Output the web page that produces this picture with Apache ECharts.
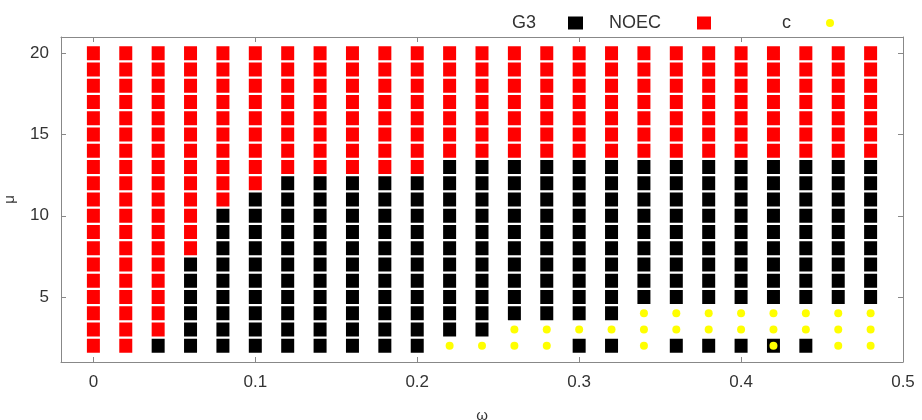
<!DOCTYPE html>
<html>
<head>
<meta charset="utf-8">
<script src="https://cdn.jsdelivr.net/npm/echarts@6/dist/echarts.min.js"></script>
<style>
html,body{margin:0;padding:0;background:#fff;}
#chart{width:922px;height:420px;}
</style>
</head>
<body>
<div id="chart"></div>
<script>
// omega values of each column
const omega = [0, 0.02, 0.04, 0.06, 0.08, 0.10, 0.12, 0.14, 0.16, 0.18, 0.20, 0.22, 0.24,
               0.26, 0.28, 0.30, 0.32, 0.34, 0.36, 0.38, 0.40, 0.42, 0.44, 0.46, 0.48];
// mu values of each row
const mu = [2, 3, 4, 5, 6, 7, 8, 9, 10, 11, 12, 13, 14, 15, 16, 17, 18, 19, 20];
// cell classes per column, one char per mu row (mu=2 first):
// B = G3, R = NOEC, c = c, X = G3 with c on top
const cells = [
  'RRRRRRRRRRRRRRRRRRR', // 0.00
  'RRRRRRRRRRRRRRRRRRR', // 0.02
  'BRRRRRRRRRRRRRRRRRR', // 0.04
  'BBBBBBRRRRRRRRRRRRR', // 0.06
  'BBBBBBBBBRRRRRRRRRR', // 0.08
  'BBBBBBBBBBRRRRRRRRR', // 0.10
  'BBBBBBBBBBBRRRRRRRR', // 0.12
  'BBBBBBBBBBBRRRRRRRR', // 0.14
  'BBBBBBBBBBBRRRRRRRR', // 0.16
  'BBBBBBBBBBBRRRRRRRR', // 0.18
  'BBBBBBBBBBBRRRRRRRR', // 0.20
  'cBBBBBBBBBBBRRRRRRR', // 0.22
  'cBBBBBBBBBBBRRRRRRR', // 0.24
  'ccBBBBBBBBBBRRRRRRR', // 0.26
  'ccBBBBBBBBBBRRRRRRR', // 0.28
  'BcBBBBBBBBBBRRRRRRR', // 0.30
  'BcBBBBBBBBBBRRRRRRR', // 0.32
  'cccBBBBBBBBBRRRRRRR', // 0.34
  'BccBBBBBBBBBRRRRRRR', // 0.36
  'BccBBBBBBBBBRRRRRRR', // 0.38
  'BccBBBBBBBBBRRRRRRR', // 0.40
  'XccBBBBBBBBBRRRRRRR', // 0.42
  'BccBBBBBBBBBRRRRRRR', // 0.44
  'cccBBBBBBBBBRRRRRRR', // 0.46
  'cccBBBBBBBBBRRRRRRR'  // 0.48
];
const xTicks = [0, 0.1, 0.2, 0.3, 0.4, 0.5];
const yTicks = [5, 10, 15, 20];
const seriesNames = ['G3', 'NOEC', 'c'];

const g3 = [], noec = [], cpts = [];
omega.forEach((w, i) => {
  for (let j = 0; j < mu.length; j++) {
    const k = cells[i][j];
    if (k === 'B' || k === 'X') g3.push([w, mu[j]]);
    if (k === 'R') noec.push([w, mu[j]]);
    if (k === 'c' || k === 'X') cpts.push([w, mu[j]]);
  }
});

const FONT = 'Liberation Sans';
const TXT = '#333';
const AX = '#888';

const baseX = {
  type: 'value', min: -0.02, max: 0.5,
  splitLine: {show: false},
  axisLine: {show: true, onZero: false, lineStyle: {color: AX, width: 1}},
  axisTick: {show: true, inside: true, length: 5, customValues: xTicks, lineStyle: {color: AX}},
};
const baseY = {
  type: 'value', min: 1, max: 21,
  splitLine: {show: false},
  axisLine: {show: true, onZero: false, lineStyle: {color: AX, width: 1}},
  axisTick: {show: true, inside: true, length: 5, customValues: yTicks, lineStyle: {color: AX}},
};

const chart = echarts.init(document.getElementById('chart'), null, {renderer: 'canvas'});
chart.setOption({
  animation: false,
  backgroundColor: '#fff',
  textStyle: {fontFamily: FONT},
  grid: {left: 61, right: 19, top: 37, bottom: 58, containLabel: false, outerBoundsMode: 'none'},
  legend: [
    {data: [{name: 'G3', icon: 'rect'}], left: 512, top: 14, padding: 0, align: 'right',
     itemWidth: 15, itemHeight: 13, selectedMode: false,
     textStyle: {fontFamily: FONT, fontSize: 18, color: TXT, padding: [0, 27, 0, 0]}},
    {data: [{name: 'NOEC', icon: 'rect'}], left: 609, top: 14, padding: 0, align: 'right',
     itemWidth: 14, itemHeight: 13, selectedMode: false,
     textStyle: {fontFamily: FONT, fontSize: 18, color: TXT, padding: [0, 31, 0, 0]}},
    {data: [{name: 'c', icon: 'circle'}], left: 782, top: 14, padding: 0, align: 'right',
     itemWidth: 8, itemHeight: 8, selectedMode: false,
     textStyle: {fontFamily: FONT, fontSize: 18, color: TXT, padding: [0, 30, 0, 0]}}
  ],
  xAxis: [
    Object.assign({}, baseX, {
      position: 'bottom',
      name: 'ω', nameLocation: 'middle', nameGap: 46,
      nameTextStyle: {fontFamily: FONT, fontSize: 15, color: TXT},
      axisLabel: {show: true, customValues: xTicks, margin: 12, fontFamily: FONT, fontSize: 17, color: TXT,
                  formatter: v => String(v)}
    }),
    Object.assign({}, baseX, {position: 'top', axisLabel: {show: false}})
  ],
  yAxis: [
    Object.assign({}, baseY, {
      position: 'left',
      name: 'μ', nameLocation: 'middle', nameGap: 44, nameRotate: 90,
      nameTextStyle: {fontFamily: FONT, fontSize: 15, color: TXT},
      axisLabel: {show: true, customValues: yTicks, margin: 12, fontFamily: FONT, fontSize: 17, color: TXT}
    }),
    Object.assign({}, baseY, {position: 'right', axisLabel: {show: false}})
  ],
  series: [
    {name: seriesNames[0], type: 'scatter', xAxisIndex: 0, yAxisIndex: 0, symbol: 'rect',
     symbolSize: [13, 14], itemStyle: {color: '#000', opacity: 1}, data: g3, z: 2},
    {name: seriesNames[1], type: 'scatter', xAxisIndex: 0, yAxisIndex: 0, symbol: 'rect',
     symbolSize: [13, 14], itemStyle: {color: '#ff0000', opacity: 1}, data: noec, z: 2},
    {name: seriesNames[2], type: 'scatter', xAxisIndex: 0, yAxisIndex: 0, symbol: 'circle',
     symbolSize: 8, itemStyle: {color: '#ffff00', opacity: 1}, data: cpts, z: 3}
  ]
});
</script>
</body>
</html>
